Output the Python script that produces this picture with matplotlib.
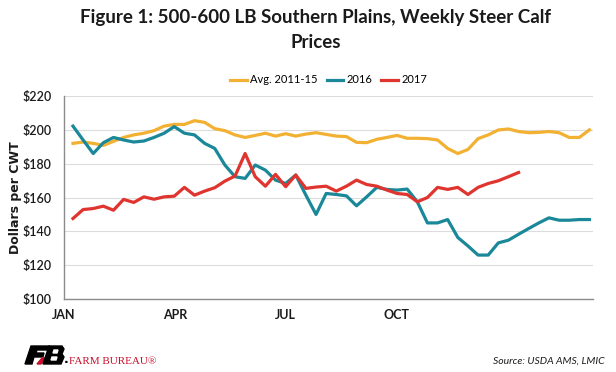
"""Weekly steer calf prices, 500-600 lb, Southern Plains -- avg 2011-15 vs 2016 vs 2017."""

import matplotlib
matplotlib.use("Agg")
import matplotlib.pyplot as plt
from matplotlib.patches import Polygon

# ---------------------------------------------------------------------------
# data (52 weekly points, 2017 stops at week 45)
# ---------------------------------------------------------------------------
avg_2011_15 = [192.0, 192.8, 192.0, 190.8, 193.2, 195.5, 197.0, 198.0, 199.5, 202.2,
               203.2, 203.2, 205.4, 204.4, 200.7, 199.5, 197.0, 195.5, 196.7, 198.0,
               196.3, 197.7, 196.3, 197.5, 198.3, 197.3, 196.3, 196.0, 192.6, 192.4,
               194.4, 195.5, 196.7, 195.0, 195.0, 194.8, 194.0, 189.0, 186.0, 188.4,
               194.8, 197.0, 199.9, 200.5, 199.0, 198.3, 198.5, 199.0, 198.3, 195.5,
               195.5, 200.0]
prices_2016 = [202.2, 194.0, 186.0, 192.4, 195.5, 194.0, 192.8, 193.4, 195.5, 198.0,
               201.9, 198.0, 197.0, 192.0, 189.0, 179.2, 172.3, 171.3, 179.2, 176.2,
               170.3, 168.3, 173.3, 161.4, 150.0, 162.4, 161.8, 161.0, 155.1, 160.4,
               166.0, 164.8, 164.4, 165.0, 157.5, 145.0, 145.0, 147.0, 136.4, 131.4,
               126.0, 126.0, 133.2, 134.8, 138.3, 141.7, 145.0, 148.0, 146.6, 146.6,
               147.0, 147.0]
prices_2017 = [147.6, 152.9, 153.5, 154.9, 152.5, 158.9, 157.1, 160.4, 159.0, 160.4,
               160.8, 166.0, 161.4, 163.8, 165.8, 169.7, 172.7, 186.0, 172.3, 166.7,
               173.7, 166.4, 173.3, 165.4, 166.2, 166.7, 163.8, 166.7, 170.3, 167.7,
               166.7, 164.4, 162.4, 161.8, 157.5, 160.0, 166.0, 164.8, 166.0, 161.8,
               166.0, 168.3, 169.9, 172.3, 174.8]
month_labels = ["JAN", "APR", "JUL", "OCT"]
month_pos = [-0.88, 10.08, 20.94, 31.9]  # excel date axis put these off the week grid
y_ticks = [100, 120, 140, 160, 180, 200, 220]

_YELLOW = "#F2B133"
_TEAL = "#1A8898"
_RED = "#E0342F"
_TEXT = "#1a1a1a"
_FONT = "Lato"

fig = plt.figure(figsize=(6.16, 3.72), dpi=100)
ax = fig.add_axes([0.104, 0.196, 0.859, 0.546])

ax.plot(range(len(avg_2011_15)), avg_2011_15, color=_YELLOW, lw=2.3, label="Avg. 2011-15", zorder=3)
ax.plot(range(len(prices_2016)), prices_2016, color=_TEAL, lw=2.3, label="2016", zorder=3)
ax.plot(range(len(prices_2017)), prices_2017, color=_RED, lw=2.3, label="2017", zorder=4)

ax.set_xlim(-0.39, 51.37)
ax.set_ylim(100, 220)
ax.set_yticks(y_ticks)
ax.set_yticklabels([f"${v}" for v in y_ticks], fontsize=9, family=_FONT,
                   fontweight="semibold", color=_TEXT)
ax.set_xticks(month_pos)
ax.set_xticklabels(month_labels, fontsize=9, family=_FONT, fontweight="bold", color=_TEXT)
ax.tick_params(axis="both", length=0)
ax.tick_params(axis="y", pad=9)
ax.tick_params(axis="x", pad=7)
ax.grid(axis="y", color="#dcdcdc", lw=0.8)
ax.set_axisbelow(True)
for side in ("top", "right"):
    ax.spines[side].set_visible(False)
for side in ("left", "bottom"):
    ax.spines[side].set_color("#8c8c8c")
    ax.spines[side].set_linewidth(1.0)

# Lato bold looked too thin for this label, DejaVu bold is closer to the heavy original
ax.set_ylabel("Dollars per CWT", fontsize=9, family="DejaVu Sans", fontweight="bold", color=_TEXT)
ax.yaxis.set_label_coords(-0.08, 0.5)

ax.legend(loc="lower center", bbox_to_anchor=(0.5, 1.03), ncol=3, frameon=False,
          prop={"family": _FONT, "size": 8}, handlelength=1.5, handletextpad=0.3,
          columnspacing=0.8, borderaxespad=0)

fig.text(0.512, 0.952, "Figure 1: 500-600 LB Southern Plains, Weekly Steer Calf",
         ha="center", va="center", fontsize=13.5, family=_FONT, fontweight="bold", color=_TEXT)
fig.text(0.512, 0.887, "Prices", ha="center", va="center", fontsize=13.5, family=_FONT,
         fontweight="bold", color=_TEXT)

# ---------------------------------------------------------------------------
# footer -- rough Farm Bureau mark plus source note
# ---------------------------------------------------------------------------
W, H = 616, 372
def _px(pts):
    return [(x / W, 1 - y / H) for x, y in pts]

fig.patches.append(Polygon(_px([(25, 364), (31, 346), (50, 346), (49, 350), (37, 350),
                                (36, 353), (44, 353), (43, 357), (34, 357), (32, 364)]),
                           closed=True, transform=fig.transFigure, color="black"))
fig.patches.append(Polygon(_px([(37, 364), (42, 358), (46, 358), (41, 364)]),
                           closed=True, transform=fig.transFigure, color="#c8102e"))
fig.patches.append(Polygon(_px([(43, 364), (49, 346), (62, 346), (64, 349), (62, 354),
                                (64, 357), (61, 364)]),
                           closed=True, transform=fig.transFigure, color="black"))
fig.patches.append(Polygon(_px([(54, 350), (58, 350), (57, 353), (53, 353)]),
                           closed=True, transform=fig.transFigure, color="white"))
fig.patches.append(Polygon(_px([(52, 357), (57, 357), (56, 360), (51, 360)]),
                           closed=True, transform=fig.transFigure, color="white"))
fig.text(64 / W, 1 - 363 / H, ".", fontsize=9, fontweight="bold", color="black")
fig.text(69 / W, 1 - 361 / H, "FARM BUREAU\u00ae", fontsize=8, family="Liberation Serif",
         color="#c8102e", va="center")
fig.text(605 / W, 1 - 361 / H, "Source: USDA AMS, LMIC", fontsize=7.5, family=_FONT,
         style="italic", color=_TEXT, ha="right", va="center")

fig.savefig("out.png", dpi=100, facecolor="white")
